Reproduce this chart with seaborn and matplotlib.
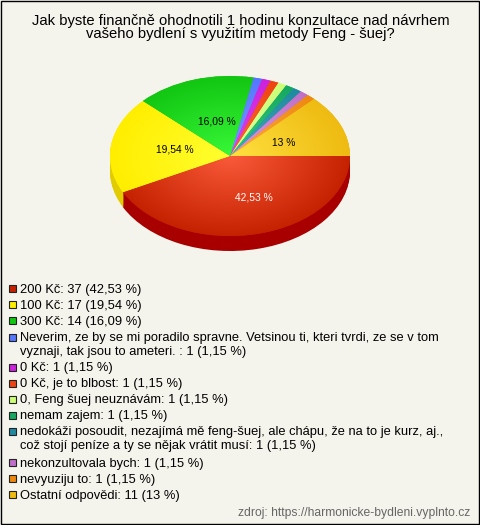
import numpy as np
import seaborn as sns
import matplotlib.pyplot as plt
from matplotlib.colors import LinearSegmentedColormap
from matplotlib.patches import Rectangle

title = "Jak byste finančně ohodnotili 1 hodinu konzultace nad návrhem\nvašeho bydlení s využitím metody Feng - šuej?"
source = "zdroj: https://harmonicke-bydleni.vyplnto.cz"

counts = [37, 17, 14, 1, 1, 1, 1, 1, 1, 1, 1, 11]
pie_labels = ["42,53 %", "19,54 %", "16,09 %", "", "", "", "", "", "", "", "", "13 %"]
legend_labels = [
    "200 Kč: 37 (42,53 %)",
    "100 Kč: 17 (19,54 %)",
    "300 Kč: 14 (16,09 %)",
    "Neverim, ze by se mi poradilo spravne. Vetsinou ti, kteri tvrdi, ze se v tom\nvyznaji, tak jsou to ameteri. : 1 (1,15 %)",
    "0 Kč: 1 (1,15 %)",
    "0 Kč, je to blbost: 1 (1,15 %)",
    "0, Feng šuej neuznávám: 1 (1,15 %)",
    "nemam zajem: 1 (1,15 %)",
    "nedokáži posoudit, nezajímá mě feng-šuej, ale chápu, že na to je kurz, aj.,\ncož stojí peníze a ty se nějak vrátit musí: 1 (1,15 %)",
    "nekonzultovala bych: 1 (1,15 %)",
    "nevyuziju to: 1 (1,15 %)",
    "Ostatní odpovědi: 11 (13 %)",
]
colors = ["#c42200", "#ffee00", "#12c612", "#5577ff", "#cc22dd", "#ee4411",
          "#ccff77", "#15a860", "#1f8aa0", "#c070c8", "#ee8811", "#eebb11"]
centers = ["#fb5a3a", "#ffff30", "#38f838", "#7799ff", "#dd44ee", "#ff6633",
           "#ddff99", "#33cc80", "#44aabb", "#dd99dd", "#ffaa44", "#ffe040"]
sides = ["#a80000", "#e0cc00"]
label_colors = ["white", "black", "black", "black", "black", "black",
                "black", "black", "black", "black", "black", "black"]
# small label nudges in px (right, down)
nudge_x = [10.5, 2, 4.5, 0, 0, 0, 0, 0, 0, 0, 0, 1]
nudge_y = [4, -1, 2, 0, 0, 0, 0, 0, 0, 0, 0, 2]

bg = "#f5f4ec"
w, h = 480, 525

sns.set_theme(style="white")
plt.rcParams['font.family'] = ['Liberation Sans', 'DejaVu Sans']
palette = sns.color_palette(colors)

fig = plt.figure(figsize=(w / 100, h / 100), dpi=100, facecolor=bg)

# page axes in pixels, for frame, title and legend
page = fig.add_axes([0, 0, 1, 1])
page.set_xlim(0, w)
page.set_ylim(h, 0)
page.axis('off')
page.add_patch(Rectangle((0.5, 0.5), w - 1.5, h - 1.5, fill=False, ec="black", lw=1))
page.text(240.5, 27.5, title, ha="center", va="center", fontsize=10.65, color="black", linespacing=0.95)

row_y = [288, 304, 320, 337, 367, 383, 399, 415, 431, 462, 478, 494]
for color, label, y in zip(palette, legend_labels, row_y):
    page.add_patch(Rectangle((9, y - 3.5), 7, 7, fc=color, ec="#222222", lw=0.8))
    page.text(20, y - 4.5, label, ha="left", va="top", fontsize=9.3, color="black", linespacing=1.17)
page.text(470, 513, source, ha="right", va="center", fontsize=8.7, color="#666666")

# pie axes: 300x200 px, limits +-1.25, gives 120x80 px ellipse
pie_ax = fig.add_axes([80 / w, 1 - 256 / h, 300 / w, 200 / h])
depth = 15 / 80
side_colors = [sides[0], sides[1]] + colors[2:]
for off in np.linspace(depth, 0.01, 16):
    pie_ax.pie(counts, colors=side_colors, startangle=0, counterclock=False, center=(0, -off),
               wedgeprops={"linewidth": 0})

wedges, _ = pie_ax.pie(counts, colors=palette, startangle=0, counterclock=False,
                       wedgeprops={"linewidth": 0})

yy, xx = np.mgrid[-1:1:300j, -1:1:300j]
rr = np.clip(np.hypot(xx, yy), 0, 1)
for wedge, c0, c1 in zip(wedges, centers, colors):
    cmap = LinearSegmentedColormap.from_list("w", [c0, c1])
    im = pie_ax.imshow(rr, cmap=cmap, extent=(-1, 1, -1, 1), vmin=0, vmax=1, zorder=3)
    im.set_clip_path(wedge)

for wedge, label, col, nx, ny in zip(wedges, pie_labels, label_colors, nudge_x, nudge_y):
    if label == "":
        continue
    mid = np.deg2rad((wedge.theta1 + wedge.theta2) / 2)
    pie_ax.text(0.48 * np.cos(mid) + nx / 120, 0.48 * np.sin(mid) - ny / 80, label, ha="center", va="center",
                fontsize=7.4, color=col, zorder=5)

pie_ax.set_aspect('auto')
pie_ax.set_xlim(-1.25, 1.25)
pie_ax.set_ylim(-1.25, 1.25)
pie_ax.axis('off')

fig.savefig("out.png", dpi=100, facecolor=bg)
plt.close()
